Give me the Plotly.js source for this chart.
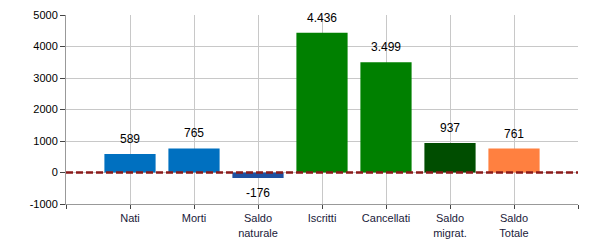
<!DOCTYPE html>
<html>
<head>
<meta charset="utf-8">
<script src="https://cdn.plot.ly/plotly-3.0.1.min.js"></script>
<style>html,body{margin:0;padding:0;background:#fff;}#chart{width:600px;height:250px;}</style>
</head>
<body>
<div id="chart"></div>
<script>
var categories = ["Nati", "Morti", "Saldo<br>naturale", "Iscritti", "Cancellati", "Saldo<br>migrat.", "Saldo<br>Totale"];
var values = [589, 765, -176, 4436, 3499, 937, 761];
var valueLabels = ["589", "765", "-176", "4.436", "3.499", "937", "761"];
var barColors = ["#0070C0", "#0070C0", "#1F50A0", "#008000", "#008000", "#004D00", "#FF8040"];
var yTicks = [-1000, 0, 1000, 2000, 3000, 4000, 5000];

var xIdx = categories.map(function(_, i){ return i; });

var trace = {
  type: "bar",
  x: xIdx,
  y: values,
  width: 0.8,
  marker: {color: barColors, line: {width: 0}},
  hoverinfo: "none"
};

var annotations = values.map(function(v, i){
  return {
    x: i, y: v, xref: "x", yref: "y",
    text: valueLabels[i],
    showarrow: false,
    yanchor: v >= 0 ? "bottom" : "top",
    yshift: v >= 0 ? 6 : -6,
    font: {family: "Liberation Sans, Arial, sans-serif", size: 12, color: "#000"}
  };
});

var layout = {
  width: 600, height: 250,
  margin: {l: 66, r: 22, t: 15, b: 46, pad: 0},
  paper_bgcolor: "#fff",
  plot_bgcolor: "#fff",
  showlegend: false,
  font: {family: "Liberation Sans, Arial, sans-serif", size: 11, color: "#000"},
  xaxis: {
    range: [-1, 7],
    tickmode: "array",
    tickvals: [-1].concat(xIdx, [7]),
    ticktext: [""].concat(categories, [""]),
    showgrid: true, gridcolor: "#c8c8c8", gridwidth: 1,
    showline: true, linecolor: "#999", linewidth: 1,
    ticks: "outside", ticklen: 4, tickcolor: "#444", tickwidth: 1,
    zeroline: false,
    tickfont: {size: 11, color: "#1a1a3a"},
    fixedrange: true
  },
  yaxis: {
    range: [-1000, 5000],
    tickmode: "array",
    tickvals: yTicks,
    ticktext: yTicks.map(String),
    showgrid: true, gridcolor: "#c8c8c8", gridwidth: 1,
    showline: true, linecolor: "#999", linewidth: 1,
    ticks: "outside", ticklen: 5, tickcolor: "#444", tickwidth: 1,
    zeroline: false,
    tickfont: {size: 11, color: "#000"},
    fixedrange: true
  },
  shapes: [{
    type: "line", xref: "paper", yref: "y",
    x0: 0, x1: 1, y0: 0, y1: 0,
    line: {color: "#8B1A1A", width: 2.5, dash: "7px,3px"}
  }],
  annotations: annotations
};

Plotly.newPlot("chart", [trace], layout, {displayModeBar: false, staticPlot: true});
</script>
</body>
</html>
